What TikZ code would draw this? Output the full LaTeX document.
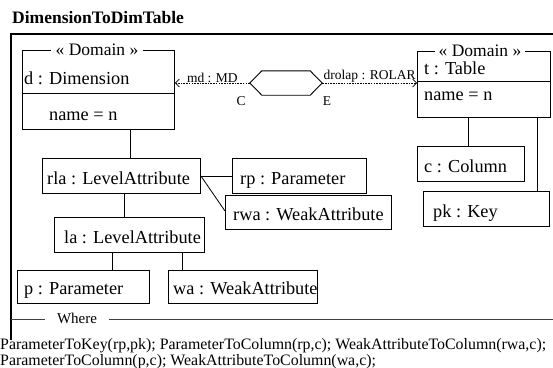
\documentclass[tikz,border=0pt]{standalone}
\usepackage{fontspec}
\setmainfont{Liberation Serif}
\usetikzlibrary{arrows.meta,calc}
\begin{document}
\begin{tikzpicture}[x=1pt,y=-1pt,
  boxfont/.style={font=\fontsize{18.3}{21}\selectfont},
  stereofont/.style={font=\fontsize{17.5}{20}\selectfont},
  labfont/.style={font=\fontsize{13.5}{15}\selectfont},
  objbox/.style={draw, line width=0.9pt, anchor=north west, inner sep=0pt},
  objtext/.style={boxfont, anchor=base west, inner sep=0pt},
  stereo/.style={stereofont, fill=white, inner xsep=5pt, inner ysep=0pt},
  link/.style={line width=0.8pt},
  dep/.style={line width=0.6pt, dash pattern=on 1.6pt off 1.1pt,
    -{Straight Barb[length=4pt,width=8pt,line width=0.7pt]}},
  lab/.style={labfont, inner sep=0pt},
  sep/.style={line width=0.7pt, draw=black!75},
  wheretext/.style={font=\fontsize{15.9}{18}\selectfont, anchor=base west, inner sep=0pt}
]
\useasboundingbox (0,0) rectangle (553,367);

% title and outer frame
\node[anchor=base west, inner sep=0pt, font=\bfseries\fontsize{17.5}{20}\selectfont]
  (title) at (12,23) {DimensionToDimTable};
\draw[line width=1.3pt] (11,340) -- (11,34) -- (553,34);

% d : Dimension
\node[objbox, minimum width=152pt, minimum height=79pt] (d) at (22,50) {};
\draw[objbox] (d.west |- 0,93) -- (d.east |- 0,93);
\node[stereo] (dst) at (97,50) {« Domain »};
\node[objtext] (dname) at (24,84) {d : Dimension};
\node[objtext] (dattr) at (49,120) {name = n};

% t : Table
\node[objbox, minimum width=133pt, minimum height=66pt] (t) at (417,51) {};
\draw[objbox] (t.west |- 0,81) -- (t.east |- 0,81);
\node[stereo, inner xsep=4pt] (tst) at (480,51) {« Domain »};
\node[objtext] (tname) at (424,74) {t : Table};
\node[objtext] (tattr) at (424,100) {name = n};

% relation between the two domains
\node[minimum width=72pt, minimum height=24pt, inner sep=0pt] (hex) at (286,83) {};
\draw[line width=0.9pt] (hex.west) -- ($(hex.north west)+(12,0)$)
  -- ($(hex.north east)+(-12,0)$) -- (hex.east)
  -- ($(hex.south east)+(-12,0)$) -- ($(hex.south west)+(12,0)$) -- cycle;
\draw[dep] (hex.west) -- (d.east |- hex.west)
  node[lab, midway, anchor=south, yshift=0.5pt] (md) {md : MD};
\draw[dep] (hex.east) -- (t.west |- hex.east)
  node[lab, midway, anchor=south, yshift=0.5pt] (drolap) {drolap : ROLAR};
\node[lab] (C) at (241,101) {C};
\node[lab] (E) at (327,101) {E};

% source side objects
\node[objbox, minimum width=158pt, minimum height=35pt] (rla) at (42,158) {};
\node[objtext] (rlat) at ([xshift=5pt,yshift=-8.5pt]rla.west) {rla : LevelAttribute};
\node[objbox, minimum width=134pt, minimum height=35pt] (rp) at (232,158) {};
\node[objtext] (rpt) at ([xshift=8pt,yshift=-8.5pt]rp.west) {rp : Parameter};
\node[objbox, minimum width=166pt, minimum height=34pt] (rwa) at (225,195) {};
\node[objtext] (rwat) at ([xshift=8pt,yshift=-8.5pt]rwa.west) {rwa : WeakAttribute};
\node[objbox, minimum width=150pt, minimum height=35pt] (la) at (54,217) {};
\node[objtext] (lat) at ([xshift=10pt,yshift=-8.5pt]la.west) {la : LevelAttribute};
\node[objbox, minimum width=132pt, minimum height=33pt] (p) at (17,270) {};
\node[objtext] (pt) at ([xshift=7pt,yshift=-8pt]p.west) {p : Parameter};
\node[objbox, minimum width=149pt, minimum height=33pt] (wa) at (168,270) {};
\node[objtext] (wat) at ([xshift=5pt,yshift=-8pt]wa.west) {wa : WeakAttribute};

% target side objects
\node[objbox, minimum width=107pt, minimum height=35pt] (c) at (417,146) {};
\node[objtext] (ct) at ([xshift=7pt,yshift=-8.5pt]c.west) {c : Column};
\node[objbox, minimum width=126pt, minimum height=35pt] (pk) at (423,191) {};
\node[objtext] (pkt) at ([xshift=10pt,yshift=-8.5pt]pk.west) {pk : Key};

% links
\draw[link] (d.south -| 130,0) -- (rla.north -| 130,0);
\draw[link] (rla.east) -- (rp.west);
\draw[link] (rla.east) -- (rwa.west |- 0,211);
\draw[link] (rla.south -| 124,0) -- (la.north -| 124,0);
\draw[link] (la.south -| 112,0) -- (p.north -| 112,0);
\draw[link] (la.south -| 182,0) -- (wa.north -| 182,0);
\draw[link] (t.south -| 468,0) -- (c.north -| 468,0);
\draw[link] (t.south -| 537,0) -- (pk.north -| 537,0);

% where clause
\node[font=\fontsize{15}{18}\selectfont, inner sep=0pt] (where) at (77,318) {Where};
\draw[sep] (11,319) -- ([xshift=-12pt]where.west |- 0,319);
\draw[sep] ([xshift=12pt]where.east |- 0,319) -- (553,319);
\node[wheretext] (w1) at (0,349)
  {ParameterToKey(rp,pk); ParameterToColumn(rp,c); WeakAttributeToColumn(rwa,c);};
\node[wheretext] (w2) at (0,365)
  {ParameterToColumn(p,c); WeakAttributeToColumn(wa,c);};
\end{tikzpicture}
\end{document}
